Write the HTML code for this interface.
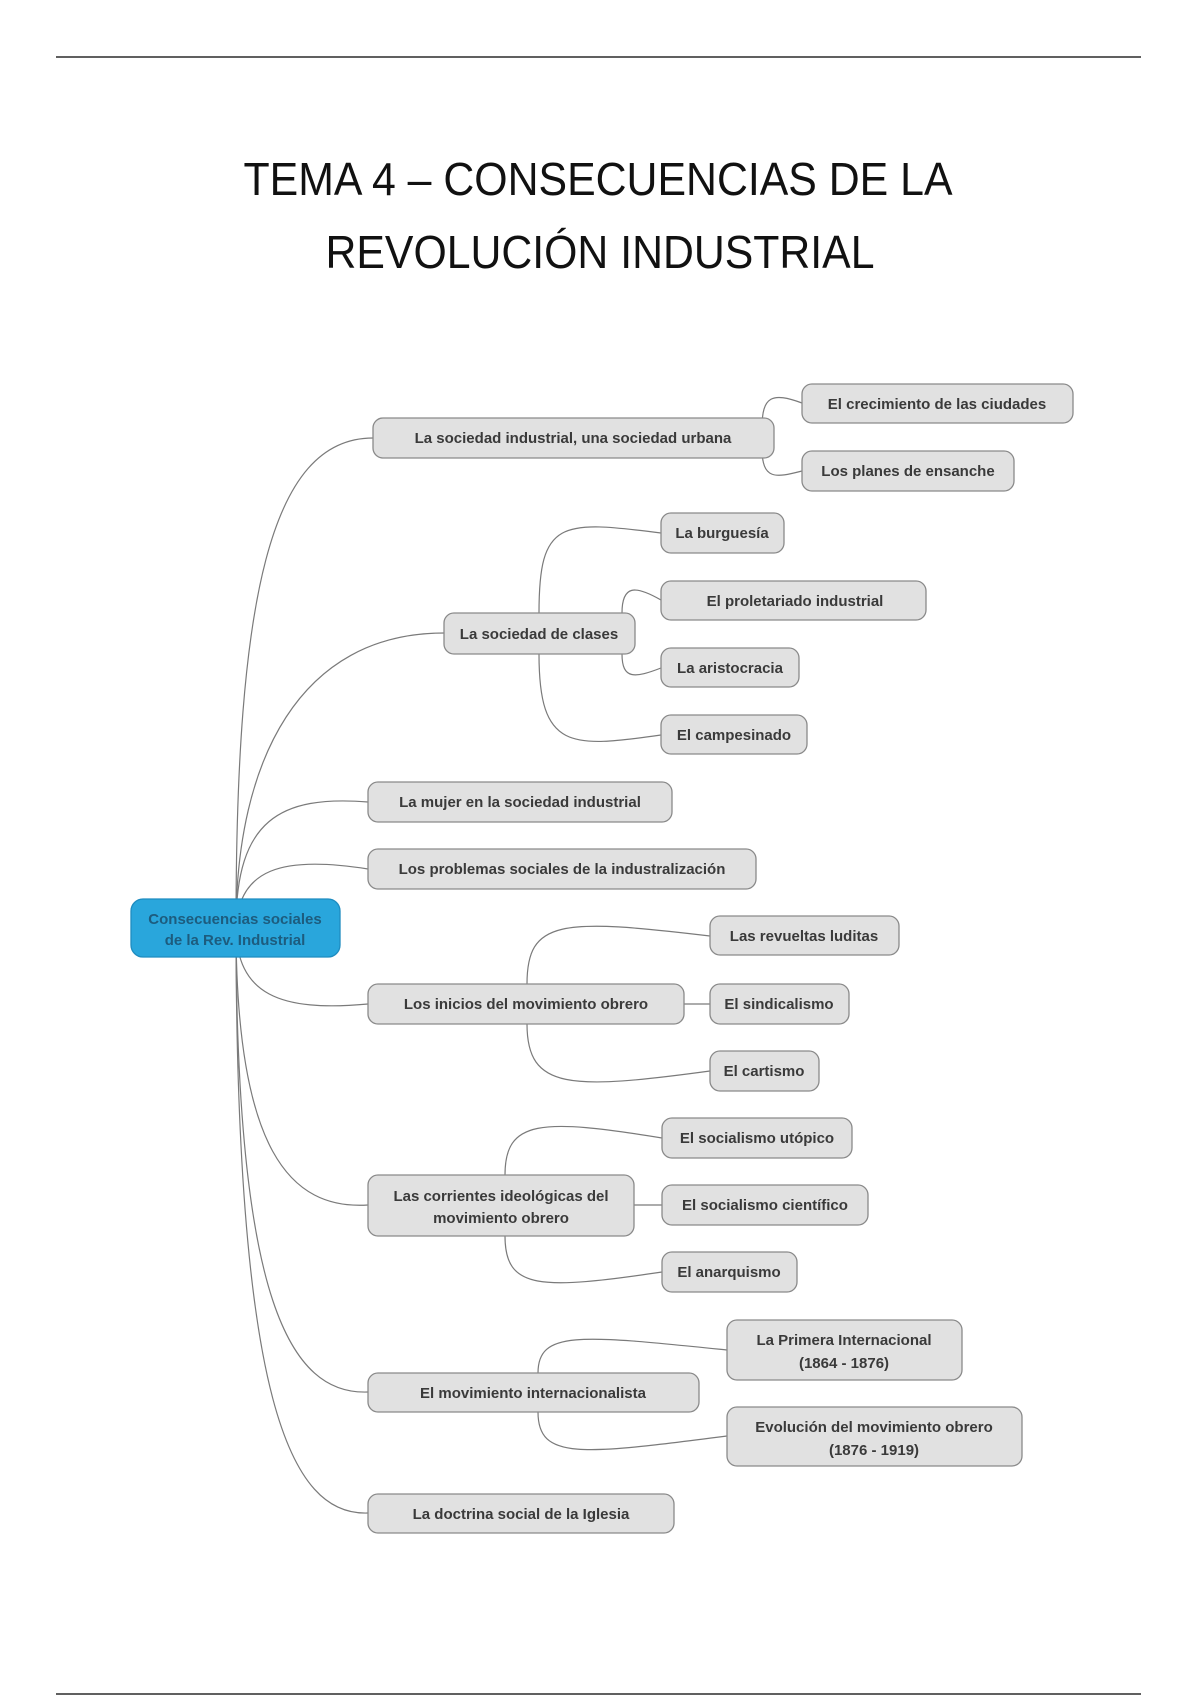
<!DOCTYPE html>
<html><head><meta charset="utf-8"><style>
html,body{margin:0;padding:0;background:#fff;}
svg{display:block;}
.b{fill:#e1e1e1;stroke:#8a8a8a;stroke-width:1.3;}
.t{font-family:"Liberation Sans",sans-serif;font-weight:bold;font-size:15px;fill:#3a3a3a;text-anchor:middle;}
.c{fill:none;stroke:#7a7a7a;stroke-width:1.2;}
</style></head><body>
<svg width="1200" height="1700" viewBox="0 0 1200 1700" xmlns="http://www.w3.org/2000/svg">
<line x1="56" y1="57" x2="1141" y2="57" stroke="#000" stroke-width="1.3"/>
<line x1="56" y1="1694" x2="1141" y2="1694" stroke="#000" stroke-width="1.3"/>
<text x="598" y="195" font-family="Liberation Sans,sans-serif" font-size="46" fill="#111" text-anchor="middle" textLength="709" lengthAdjust="spacingAndGlyphs">TEMA 4 – CONSECUENCIAS DE LA</text>
<text x="600" y="268" font-family="Liberation Sans,sans-serif" font-size="46" fill="#111" text-anchor="middle" textLength="549" lengthAdjust="spacingAndGlyphs">REVOLUCIÓN INDUSTRIAL</text>

<!-- root connectors -->
<path class="c" d="M236,926 C236,600 270,438 373,438"/>
<path class="c" d="M236,926 C236,760 300,633 444,633"/>
<path class="c" d="M236,926 C236,820 280,795 368,802"/>
<path class="c" d="M236,926 C240,870 280,855 368,869"/>
<path class="c" d="M236,926 C236,995 280,1012 368,1004"/>
<path class="c" d="M236,926 C236,1150 290,1210 368,1205"/>
<path class="c" d="M236,926 C236,1300 290,1395 368,1392"/>
<path class="c" d="M236,926 C236,1400 290,1516 368,1513"/>
<!-- sub connectors -->
<path class="c" d="M762,428 C762,396 772,392 802,403"/>
<path class="c" d="M762,448 C762,480 775,478 802,471"/>
<path class="c" d="M539,613 C539,520 560,520 661,533"/>
<path class="c" d="M539,654 C539,750 570,748 661,735"/>
<path class="c" d="M622,613 C622,585 635,585 661,600"/>
<path class="c" d="M622,654 C622,680 635,678 661,668"/>
<path class="c" d="M527,984 C527,920 560,918 710,936"/>
<path class="c" d="M527,1024 C527,1090 570,1090 710,1071"/>
<path class="c" d="M684,1004 L710,1004"/>
<path class="c" d="M505,1175 C505,1120 540,1118 662,1138"/>
<path class="c" d="M505,1236 C505,1290 540,1290 662,1272"/>
<path class="c" d="M634,1205 L662,1205"/>
<path class="c" d="M538,1373 C538,1330 580,1335 727,1350"/>
<path class="c" d="M538,1412 C538,1460 580,1455 727,1436"/>

<!-- root -->
<rect x="131" y="899" width="209" height="58" rx="12" fill="#29a6dc" stroke="#1e8cc0" stroke-width="1.3"/>
<text class="t" x="235" y="924" style="fill:#1d5c7e">Consecuencias sociales</text>
<text class="t" x="235" y="945" style="fill:#1d5c7e">de la Rev. Industrial</text>

<rect class="b" x="373" y="418" width="401" height="40" rx="10"/><text class="t" x="573" y="443">La sociedad industrial, una sociedad urbana</text>
<rect class="b" x="802" y="384" width="271" height="39" rx="10"/><text class="t" x="937" y="409">El crecimiento de las ciudades</text>
<rect class="b" x="802" y="451" width="212" height="40" rx="10"/><text class="t" x="908" y="476">Los planes de ensanche</text>

<rect class="b" x="444" y="613" width="191" height="41" rx="10"/><text class="t" x="539" y="639">La sociedad de clases</text>
<rect class="b" x="661" y="513" width="123" height="40" rx="10"/><text class="t" x="722" y="538">La burguesía</text>
<rect class="b" x="661" y="581" width="265" height="39" rx="10"/><text class="t" x="795" y="606">El proletariado industrial</text>
<rect class="b" x="661" y="648" width="138" height="39" rx="10"/><text class="t" x="730" y="673">La aristocracia</text>
<rect class="b" x="661" y="715" width="146" height="39" rx="10"/><text class="t" x="734" y="740">El campesinado</text>

<rect class="b" x="368" y="782" width="304" height="40" rx="10"/><text class="t" x="520" y="807">La mujer en la sociedad industrial</text>
<rect class="b" x="368" y="849" width="388" height="40" rx="10"/><text class="t" x="562" y="874">Los problemas sociales de la industralización</text>

<rect class="b" x="368" y="984" width="316" height="40" rx="10"/><text class="t" x="526" y="1009">Los inicios del movimiento obrero</text>
<rect class="b" x="710" y="916" width="189" height="39" rx="10"/><text class="t" x="804" y="941">Las revueltas luditas</text>
<rect class="b" x="710" y="984" width="139" height="40" rx="10"/><text class="t" x="779" y="1009">El sindicalismo</text>
<rect class="b" x="710" y="1051" width="109" height="40" rx="10"/><text class="t" x="764" y="1076">El cartismo</text>

<rect class="b" x="368" y="1175" width="266" height="61" rx="10"/><text class="t" x="501" y="1201">Las corrientes ideológicas del</text><text class="t" x="501" y="1223">movimiento obrero</text>
<rect class="b" x="662" y="1118" width="190" height="40" rx="10"/><text class="t" x="757" y="1143">El socialismo utópico</text>
<rect class="b" x="662" y="1185" width="206" height="40" rx="10"/><text class="t" x="765" y="1210">El socialismo científico</text>
<rect class="b" x="662" y="1252" width="135" height="40" rx="10"/><text class="t" x="729" y="1277">El anarquismo</text>

<rect class="b" x="368" y="1373" width="331" height="39" rx="10"/><text class="t" x="533" y="1398">El movimiento internacionalista</text>
<rect class="b" x="727" y="1320" width="235" height="60" rx="10"/><text class="t" x="844" y="1345">La Primera Internacional</text><text class="t" x="844" y="1368">(1864 - 1876)</text>
<rect class="b" x="727" y="1407" width="295" height="59" rx="10"/><text class="t" x="874" y="1432">Evolución del movimiento obrero</text><text class="t" x="874" y="1455">(1876 - 1919)</text>

<rect class="b" x="368" y="1494" width="306" height="39" rx="10"/><text class="t" x="521" y="1519">La doctrina social de la Iglesia</text>
</svg>
</body></html>
